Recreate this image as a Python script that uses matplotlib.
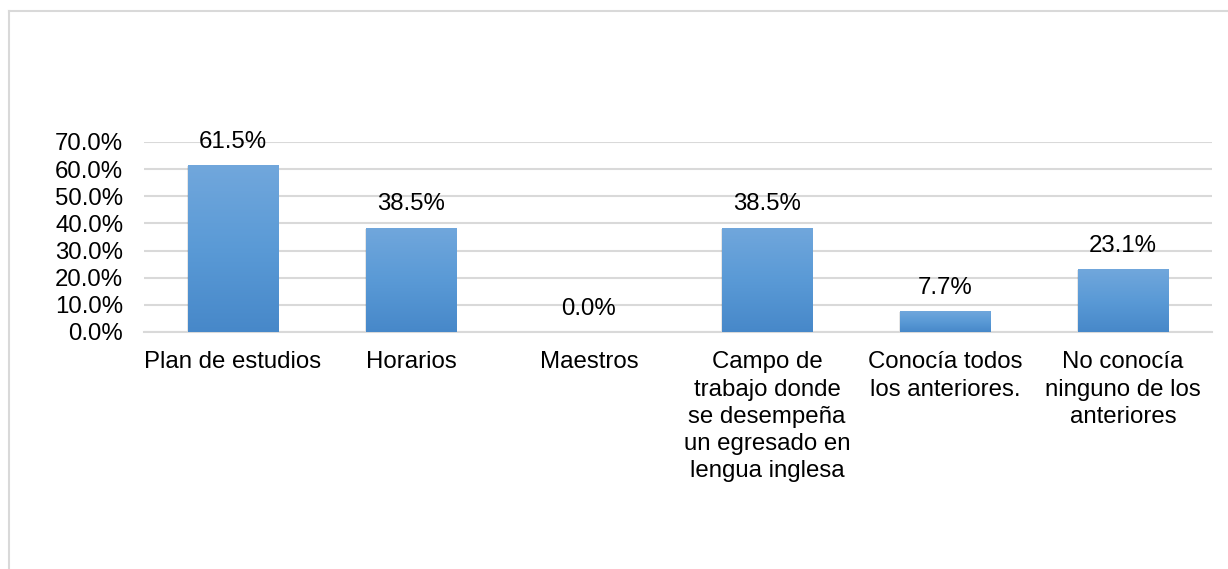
import matplotlib
matplotlib.use("Agg")
import matplotlib.pyplot as plt
import numpy as np
from matplotlib.patches import Rectangle
from matplotlib.lines import Line2D
from matplotlib.ticker import FuncFormatter
from matplotlib.colors import LinearSegmentedColormap

categories = ["Plan de estudios", "Horarios", "Maestros",
              "Campo de\ntrabajo donde\nse desempeña\nun egresado en\nlengua inglesa",
              "Conocía todos\nlos anteriores.", "No conocía\nninguno de los\nanteriores"]
values = [0.615, 0.385, 0.0, 0.385, 0.077, 0.231]
value_labels = ["61.5%", "38.5%", "0.0%", "38.5%", "7.7%", "23.1%"]
yticks = [0.0, 0.1, 0.2, 0.3, 0.4, 0.5, 0.6, 0.7]

plt.rcParams['font.family'] = ['Liberation Sans', 'DejaVu Sans']

W, H = 1228, 569
fig = plt.figure(figsize=(W/100, H/100), dpi=100)
ax = fig.add_axes([144/W, 1-332/H, (1212-144)/W, (332-142)/H])

# figure border (top and left visible)
fig.add_artist(Line2D([9/W, 1.0], [1-11/H, 1-11/H], color='#d9d9d9', lw=1.5, transform=fig.transFigure))
fig.add_artist(Line2D([9/W, 9/W], [1-11/H, 0], color='#d9d9d9', lw=1.5, transform=fig.transFigure))

ax.set_xlim(-0.5, len(categories)-0.5)
ax.set_ylim(0, 0.7)
ax.set_yticks(yticks)
ax.yaxis.set_major_formatter(FuncFormatter(lambda v, p: f"{v*100:.1f}%"))
ax.grid(axis='y', color='#d9d9d9', lw=1.5, zorder=0)
ax.set_axisbelow(True)
for s in ['top', 'right', 'left']:
    ax.spines[s].set_visible(False)
ax.spines['bottom'].set_color('#d9d9d9')
ax.spines['bottom'].set_linewidth(1.5)
ax.tick_params(axis='y', length=0, pad=15, labelsize=17.3)
ax.tick_params(axis='x', length=0, pad=14, labelsize=17.3)
ax.set_xticks(range(len(categories)))
ax.set_xticklabels(categories, linespacing=1.3)

cmap = LinearSegmentedColormap.from_list('g', ['#4788c9', '#5a9ad6', '#71a7dc'])
grad = np.linspace(0, 1, 256).reshape(-1, 1)
bw = 0.506
bars = ax.bar(range(len(categories)), values, width=bw, color='none', zorder=3)
for i, (b, v) in enumerate(zip(bars, values)):
    if v > 0:
        x0 = b.get_x()
        # shadow
        for k, a in enumerate([0.08, 0.06, 0.04]):
            d = (k+1) * 0.004
            sh = Rectangle((x0 - d*0.5, -0.004 - d*0.3), bw + d, v + d*0.3, facecolor='#000000',
                           alpha=a, edgecolor='none', zorder=2)
            ax.add_patch(sh)
        im = ax.imshow(grad, cmap=cmap, aspect='auto', extent=[x0, x0+bw, 0, v],
                       origin='lower', zorder=3)
        im.set_clip_path(b)
    ax.annotate(value_labels[i], (i, v), xytext=(0, 12.5), textcoords='offset points',
                ha='center', va='baseline', fontsize=17.3, color='#000000')

ax.set_xlim(-0.5, len(categories)-0.5)
ax.set_ylim(0, 0.7)
fig.savefig('out.png', dpi=100)
